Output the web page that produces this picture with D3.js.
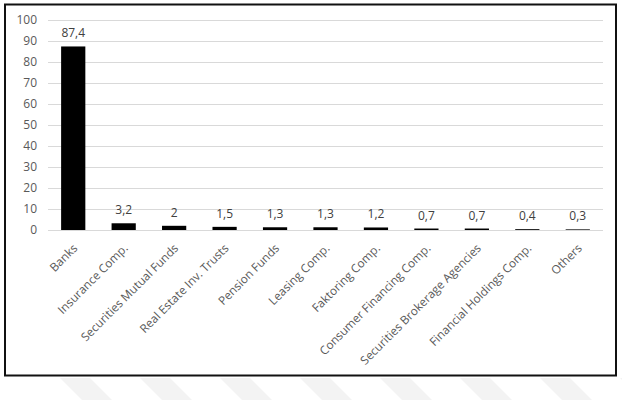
<!DOCTYPE html>
<html>
<head>
<meta charset="utf-8">
<script src="https://cdn.jsdelivr.net/npm/d3@7"></script>
<style>
  body { margin: 0; background: #fff; }
  text { font-family: "Open Sans", Calibri, sans-serif; }
</style>
</head>
<body>
<div id="chart"></div>
<script>
var categories = ["Banks", "Insurance Comp.", "Securities Mutual Funds", "Real Estate Inv. Trusts",
  "Pension Funds", "Leasing Comp.", "Faktoring Comp.", "Consumer Financing  Comp.",
  "Securities Brokerage Agencies", "Financial Holdings Comp.", "Others"];
var values = [87.4, 3.2, 2, 1.5, 1.3, 1.3, 1.2, 0.7, 0.7, 0.4, 0.3];
var yTicks = [0, 10, 20, 30, 40, 50, 60, 70, 80, 90, 100];

var svgWidth = 622;
var svgHeight = 400;
var margin = { top: 20, right: 19, bottom: 170, left: 48 };
var width = svgWidth - margin.left - margin.right;
var height = svgHeight - margin.top - margin.bottom;

var svg = d3.select("#chart")
  .append("svg")
  .attr("width", svgWidth)
  .attr("height", svgHeight);

// faint watermark stripes under the frame
var stripes = [0, 1, 2, 3, 4, 5, 6, 7];
svg.selectAll(".stripe")
  .data(stripes)
  .enter()
  .append("polygon")
  .attr("points", function(d) {
    var x0 = 60 + d * 80;
    return [[x0, 378], [x0 + 30, 378], [x0 + 52, 400], [x0 + 22, 400]].join(" ");
  })
  .style("fill", "#f3f3f3");

// frame
svg.append("rect")
  .attr("x", 5)
  .attr("y", 4.5)
  .attr("width", 611)
  .attr("height", 371)
  .style("fill", "none")
  .style("stroke", "#111")
  .style("stroke-width", 2);

var chartGroup = svg.append("g")
  .attr("transform", `translate(${margin.left}, ${margin.top})`);

var xScale = d3.scaleBand()
  .domain(categories)
  .range([0, width])
  .paddingInner(0.52)
  .paddingOuter(0.26);

var yScale = d3.scaleLinear()
  .domain([0, 100])
  .range([height, 0]);

// gridlines
chartGroup.selectAll(".grid")
  .data(yTicks)
  .enter()
  .append("line")
  .attr("x1", 0)
  .attr("x2", width)
  .attr("y1", d => Math.round(yScale(d)) + 0.5)
  .attr("y2", d => Math.round(yScale(d)) + 0.5)
  .style("stroke", "#d9d9d9")
  .style("stroke-width", 1);

var leftAxis = d3.axisLeft(yScale)
  .tickValues(yTicks)
  .tickSize(0)
  .tickPadding(11);

var yAxis = chartGroup.append("g")
  .call(leftAxis);
yAxis.select(".domain").remove();
yAxis.selectAll("text")
  .style("font-size", "12px")
  .style("fill", "#595959");

chartGroup.selectAll(".bar")
  .data(values)
  .enter()
  .append("rect")
  .attr("x", (d, i) => xScale(categories[i]))
  .attr("width", xScale.bandwidth())
  .attr("y", d => yScale(d))
  .attr("height", d => height - yScale(d))
  .style("fill", "#000");

chartGroup.selectAll(".valueText")
  .data(values)
  .enter()
  .append("text")
  .attr("x", (d, i) => xScale(categories[i]) + xScale.bandwidth() / 2)
  .attr("y", d => yScale(d) - 9)
  .attr("text-anchor", "middle")
  .style("font-size", "12px")
  .style("fill", "#404040")
  .text(d => String(d).replace(".", ","));

chartGroup.selectAll(".catText")
  .data(categories)
  .enter()
  .append("text")
  .attr("transform", d => `translate(${xScale(d) + xScale.bandwidth() / 2 + 2}, ${height + 16}) rotate(-45)`)
  .attr("text-anchor", "end")
  .attr("dy", "0.35em")
  .style("font-size", "11.8px")
  .style("fill", "#595959")
  .text(d => d);
</script>
</body>
</html>
